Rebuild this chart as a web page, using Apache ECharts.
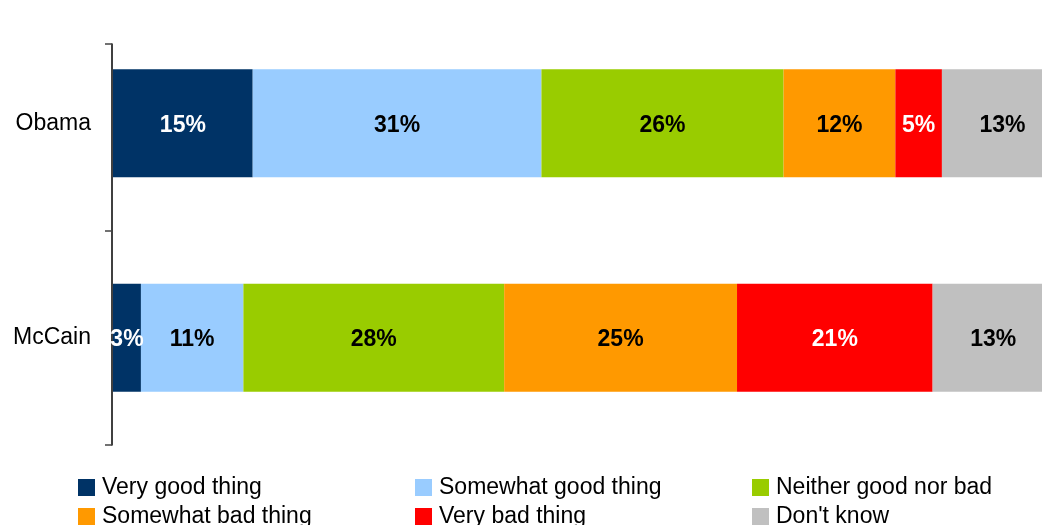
<!DOCTYPE html>
<html>
<head>
<meta charset="utf-8">
<script src="https://cdn.jsdelivr.net/npm/echarts@6/dist/echarts.min.js"></script>
<style>
  html, body { margin: 0; padding: 0; background: #fff; }
  #chart { width: 1042px; height: 525px; }
</style>
</head>
<body>
<div id="chart"></div>
<script>
// Candidates (top to bottom)
var categories = ['Obama', 'McCain'];

// Share of answers per candidate, in percent
var seriesNames = ['Very good thing', 'Somewhat good thing', 'Neither good nor bad',
                   'Somewhat bad thing', 'Very bad thing', "Don't know"];
var veryGood     = [15, 3];
var somewhatGood = [31, 11];
var neither      = [26, 28];
var somewhatBad  = [12, 25];
var veryBad      = [5, 21];
var dontKnow     = [13, 13];

var seriesValues = [veryGood, somewhatGood, neither, somewhatBad, veryBad, dontKnow];
var colors = ['#003366', '#99CCFF', '#99CC00', '#FF9900', '#FF0000', '#C0C0C0'];
var labelColors = ['#fff', '#000', '#000', '#000', '#fff', '#000'];

var FONT = '"Liberation Sans", Arial, Helvetica, sans-serif';

var chart = echarts.init(document.getElementById('chart'), null, { renderer: 'canvas' });

var series = seriesNames.map(function (name, i) {
  return {
    name: name,
    type: 'bar',
    stack: 'total',
    xAxisIndex: 0,
    yAxisIndex: 0,
    barWidth: 108,
    clip: false,
    itemStyle: { color: colors[i] },
    label: {
      show: true,
      position: 'inside',
      offset: [0, 2],
      formatter: '{c}%',
      color: labelColors[i],
      fontFamily: FONT,
      fontWeight: 'bold',
      fontSize: 23
    },
    emphasis: { disabled: true },
    data: seriesValues[i]
  };
});

// Legend laid out as a 3-column, 2-row table: one legend component per entry
var legendCols = [78, 415, 752];
var legendRows = [476, 505];
var legends = seriesNames.map(function (name, i) {
  return {
    left: legendCols[i % 3],
    top: legendRows[Math.floor(i / 3)],
    padding: 0,
    itemWidth: 17,
    itemHeight: 17,
    itemGap: 0,
    icon: 'rect',
    selectedMode: false,
    textStyle: {
      fontFamily: FONT,
      fontSize: 23,
      color: '#000',
      lineHeight: 17,
      padding: [0, 0, 0, 2]
    },
    data: [name]
  };
});

chart.setOption({
  animation: false,
  backgroundColor: '#fff',
  legend: legends,
  grid: [
    // bars
    { left: 113, top: 16, width: 950, height: 429, outerBoundsMode: 'none', containLabel: false },
    // vertical axis line with its ticks
    { left: 112, top: 44, width: 950, height: 401, outerBoundsMode: 'none', containLabel: false }
  ],
  xAxis: [
    { gridIndex: 0, type: 'value', min: 0, max: 102, show: false },
    { gridIndex: 1, type: 'value', min: 0, max: 1, show: false }
  ],
  yAxis: [
    {
      gridIndex: 0,
      type: 'category',
      inverse: true,
      data: categories,
      axisLine: { show: false },
      axisTick: { show: false },
      axisLabel: {
        margin: 22,
        fontFamily: FONT,
        fontSize: 23,
        color: '#000',
        lineHeight: 27,
        verticalAlign: 'middle',
        padding: [3, 0, 0, 0]
      }
    },
    {
      gridIndex: 1,
      type: 'value',
      inverse: true,
      min: 0,
      max: 1,
      splitLine: { show: false },
      axisLabel: { show: false },
      axisLine: { show: true, lineStyle: { color: '#000', width: 1.5 } },
      axisTick: {
        show: true,
        length: 7,
        customValues: [0, 0.466, 1],
        lineStyle: { color: '#444', width: 1.5 }
      }
    }
  ],
  series: series
});
</script>
</body>
</html>
